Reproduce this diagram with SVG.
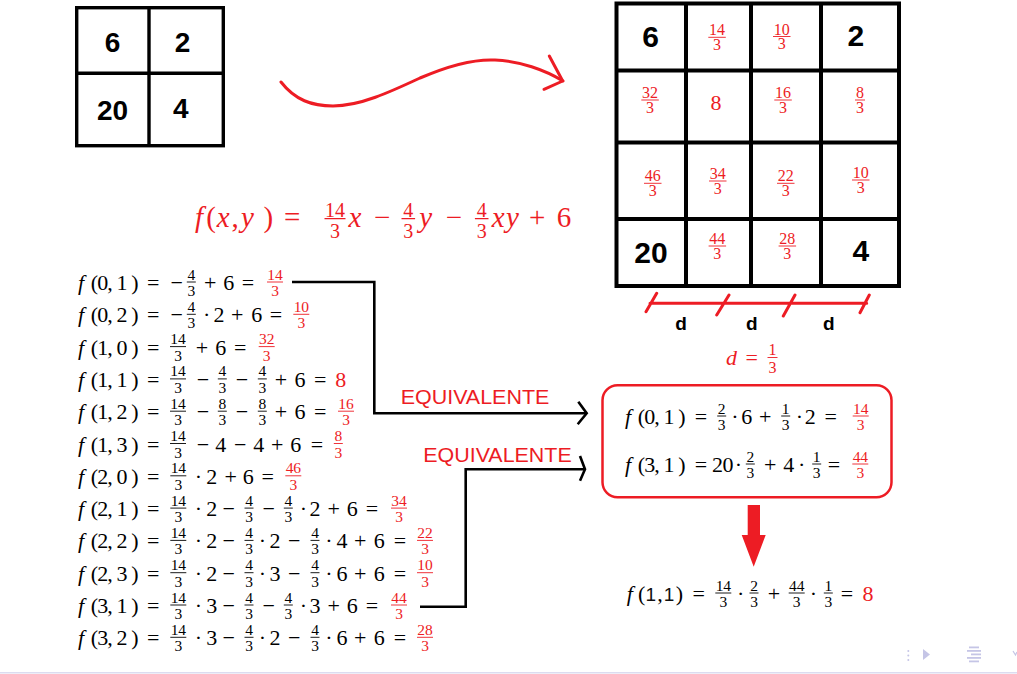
<svg xmlns="http://www.w3.org/2000/svg" width="1017" height="674" viewBox="0 0 1017 674">
<style>
.m{font-family:"Liberation Serif","DejaVu Serif",serif;font-size:22px;text-anchor:middle;fill:#000}
.fi{font-family:"Liberation Serif","DejaVu Serif",serif;font-size:22px;font-style:italic;fill:#000}
.n{font-family:"Liberation Serif","DejaVu Serif",serif;font-size:15.5px;text-anchor:middle;fill:#000}
.g{font-family:"Liberation Serif","DejaVu Serif",serif;font-size:16px;text-anchor:middle;fill:#ed1c24}
.F{font-family:"Liberation Serif","DejaVu Serif",serif;font-size:29px;text-anchor:middle;fill:#ed1c24}
.Fi{font-family:"Liberation Serif","DejaVu Serif",serif;font-size:29px;font-style:italic;text-anchor:middle;fill:#ed1c24}
.Fn{font-family:"Liberation Serif","DejaVu Serif",serif;font-size:20px;text-anchor:middle;fill:#ed1c24}
.r{fill:#ed1c24}
.bar{stroke:#000;stroke-width:0.9;fill:none}
.rbar{stroke:#ed1c24;stroke-width:0.9;fill:none}
.b28{font-family:"Liberation Sans",Arial,sans-serif;font-weight:bold;font-size:28px;text-anchor:middle;fill:#000}
.b30{font-family:"Liberation Sans",Arial,sans-serif;font-weight:bold;font-size:30px;text-anchor:middle;fill:#000}
.bd{font-family:"Liberation Sans",Arial,sans-serif;font-weight:bold;font-size:19px;text-anchor:middle;fill:#000}
.eq{font-family:"Liberation Sans",Arial,sans-serif;font-size:21px;fill:#ed1c24}
.grid{stroke:#000;fill:none}
.conn{stroke:#000;stroke-width:2.6;fill:none}
.nav{fill:#c5c5e6}
</style>

<g id="grid2x2">
<rect class="grid" x="76.7" y="7.7" width="146.6" height="138" stroke-width="3.4"/>
<path class="grid" stroke-width="3.4" d="M149,7.7V145.7M76.7,73.3H223.3"/>
<text class="b28" x="112.5" y="52">6</text>
<text class="b28" x="182.5" y="51.7">2</text>
<text class="b28" x="112.5" y="120">20</text>
<text class="b28" x="180.8" y="118">4</text>
</g>

<g id="curve-arrow">
<path d="M281,82 C295,100 312,106 333,106 C360,106 390,92 420,78 C450,65 475,59 495,60 C520,61 545,70 563,81" stroke="#ed1c24" stroke-width="3" fill="none" stroke-linecap="round"/>
<path d="M549.3,56 L562.7,81 L544,89.3" stroke="#ed1c24" stroke-width="3" fill="none" stroke-linecap="round" stroke-linejoin="round"/>
</g>

<g id="grid4x4">
<rect class="grid" x="616.5" y="3.5" width="282.5" height="282.5" stroke-width="4"/>
<path class="grid" stroke-width="4" d="M686,3.5V286M751,3.5V286M821,3.5V286M616.5,70.5H899M616.5,142.5H899M616.5,219H899"/>
<text class="b30" x="650.5" y="47">6</text>
<text class="b30" x="855.8" y="45.7">2</text>
<text class="b30" x="651" y="263">20</text>
<text class="b30" x="860.8" y="260.7">4</text>
<text class="g" x="713 721 777.7 785.7" y="34.8">1410</text>
<text class="g" x="717" y="50">3</text>
<text class="g" x="781.7" y="49.2">3</text>
<text class="g" x="646 654 779 787 860" y="97.5">32168</text>
<text class="g" x="650 783 860" y="112.7">333</text>
<text class="m r" x="716" y="110">8</text>
<text class="g" x="648.7 656.7 781.7 789.7" y="180.8">4622</text>
<text class="g" x="652.7 785.7" y="196">33</text>
<text class="g" x="713.7 721.7" y="178.5">34</text>
<text class="g" x="717.7" y="193.7">3</text>
<text class="g" x="856.7 864.7" y="177.5">10</text>
<text class="g" x="860.7" y="192.7">3</text>
<text class="g" x="713.3 721.3 783.3 791.3" y="243.5">4428</text>
<text class="g" x="717.3 787.3" y="258.7">33</text>
<path class="rbar" d="M708.3,37.3h17.5M773,36.5h17.5M641.3,100h17.5M774.3,100h17.5M855,100h10M644,183.3h17.5M709,181h17.5M777,183.3h17.5M852,180h17.5M708.6,246h17.5M778.6,246h17.5"/>
</g>

<g id="dimension">
<path d="M650,303.3H866.7M656.7,293.3L646,311.7M729,295L716.7,315M795,295L783.3,316M869.3,295L860,312.7" stroke="#ed1c24" stroke-width="3" fill="none" stroke-linecap="round"/>
<text class="bd" x="681 751.7 828.7" y="330">ddd</text>
<text class="fi r" x="726" y="365">d</text>
<text class="m r" x="751.7" y="365">=</text>
<text class="g" x="772.5" y="355">1</text>
<text class="g" x="772.5" y="372.5">3</text>
<path class="rbar" d="M767.5,357.5h10"/>
</g>

<g id="formula">
<text class="Fi" x="199 223.3 247.5 355 425.8 498.3 512.5" y="227">fxyxyxy</text>
<text class="F" x="211 235 268.3 292.3 382.3 454 537.3 564" y="227">(,)=−−+6</text>
<text class="Fn" x="330 340 408.3 481.7" y="216.5">1444</text>
<text class="Fn" x="335 408.3 481.7" y="237.5">333</text>
<path d="M324.5,218.7h21M401.5,218.7h13.6M474.9,218.7h13.6" stroke="#ed1c24" stroke-width="1.2"/>
</g>

<g id="equations">
<g id="eq01">
<text class="fi" x="78" y="290">f</text>
<text class="m" x="94.5 102.8 110 122 135 153.3 176.7 210.3 228.7 248" y="290">(0,1)=−+6=</text>
<text class="n" x="191.3" y="279.5">4</text><text class="n" x="191.3" y="296">3</text>
<path class="bar" d="M186.8,282h9"/>
<text class="n r" x="271.2 278.8" y="279.5">14</text><text class="n r" x="275" y="296">3</text>
<path class="rbar" d="M267,282h16"/>
</g>
<g id="eq02">
<text class="fi" x="78" y="322.3">f</text>
<text class="m" x="94.5 102.8 110 122 135 153.3 176.7 206.7 219 237.3 256.7 276" y="322.3">(0,2)=−·2+6=</text>
<text class="n" x="191.3" y="311.8">4</text><text class="n" x="191.3" y="328.3">3</text>
<path class="bar" d="M186.8,314.3h9"/>
<text class="n r" x="297.5 305.1" y="311.8">10</text><text class="n r" x="301.3" y="328.3">3</text>
<path class="rbar" d="M293.3,314.3h16"/>
</g>
<g id="eq10">
<text class="fi" x="78" y="354.6">f</text>
<text class="m" x="94.5 102.8 110 122 135 153.3 202 220.7 240.3" y="354.6">(1,0)=+6=</text>
<text class="n" x="174.2 181.8" y="344.1">14</text><text class="n" x="178" y="360.6">3</text>
<path class="bar" d="M170,346.6h16"/>
<text class="n r" x="262.9 270.5" y="344.1">32</text><text class="n r" x="266.7" y="360.6">3</text>
<path class="rbar" d="M258.7,346.6h16"/>
</g>
<g id="eq11">
<text class="fi" x="78" y="386.9">f</text>
<text class="m" x="94.5 102.8 110 122 135 153.3 203 242 281 300 320.3" y="386.9">(1,1)=−−+6=</text>
<text class="m r" x="340.7" y="386.9">8</text>
<text class="n" x="174.2 181.8 222.3 262.3" y="376.4">1444</text><text class="n" x="178 222.3 262.3" y="392.9">333</text>
<path class="bar" d="M170,378.9h16M217.8,378.9h9M257.8,378.9h9"/>
</g>
<g id="eq12">
<text class="fi" x="78" y="419.2">f</text>
<text class="m" x="94.5 102.8 110 122 135 153.3 203 242 281 300 320.3" y="419.2">(1,2)=−−+6=</text>
<text class="n" x="174.2 181.8 222.3 262.3" y="408.7">1488</text><text class="n" x="178 222.3 262.3" y="425.2">333</text>
<path class="bar" d="M170,411.2h16M217.8,411.2h9M257.8,411.2h9"/>
<text class="n r" x="342.2 349.8" y="408.7">16</text><text class="n r" x="346" y="425.2">3</text>
<path class="rbar" d="M338,411.2h16"/>
</g>
<g id="eq13">
<text class="fi" x="78" y="451.5">f</text>
<text class="m" x="94.5 102.8 110 122 135 153.3 203 220.7 240.3 258.7 277.3 295.7 317" y="451.5">(1,3)=−4−4+6=</text>
<text class="n" x="174.2 181.8" y="441">14</text><text class="n" x="178" y="457.5">3</text>
<path class="bar" d="M170,443.5h16"/>
<text class="n r" x="338.3" y="441">8</text><text class="n r" x="338.3" y="457.5">3</text>
<path class="rbar" d="M333.8,443.5h9"/>
</g>
<g id="eq20">
<text class="fi" x="78" y="483.8">f</text>
<text class="m" x="94.5 102.8 110 122 135 153.3 198.3 211.7 230.7 248.3 267.7" y="483.8">(2,0)=·2+6=</text>
<text class="n" x="174.5 182.1" y="473.3">14</text><text class="n" x="178.3" y="489.8">3</text>
<path class="bar" d="M170.3,475.8h16"/>
<text class="n r" x="289.5 297.1" y="473.3">46</text><text class="n r" x="293.3" y="489.8">3</text>
<path class="rbar" d="M285.3,475.8h16"/>
</g>
<g id="eq21">
<text class="fi" x="78" y="516.1">f</text>
<text class="m" x="94.5 102.8 110 122 135 153.3 198.3 211.7 228.7 268.7 303.3 315 333.7 352.3 372" y="516.1">(2,1)=·2−−·2+6=</text>
<text class="n" x="174.5 182.1 249 288.3" y="505.6">1444</text><text class="n" x="178.3 249 288.3" y="522.1">333</text>
<path class="bar" d="M170.3,508.1h16M244.5,508.1h9M283.8,508.1h9"/>
<text class="n r" x="395.2 402.8" y="505.6">34</text><text class="n r" x="399" y="522.1">3</text>
<path class="rbar" d="M391,508.1h16"/>
</g>
<g id="eq22">
<text class="fi" x="78" y="548.4">f</text>
<text class="m" x="94.5 102.8 110 122 135 153.3 198.3 211.7 228.7 262.3 275 294.3 329 342 360.3 379.3 400" y="548.4">(2,2)=·2−·2−·4+6=</text>
<text class="n" x="174.5 182.1 249 315" y="537.9">1444</text><text class="n" x="178.3 249 315" y="554.4">333</text>
<path class="bar" d="M170.3,540.4h16M244.5,540.4h9M310.5,540.4h9"/>
<text class="n r" x="421.2 428.8" y="537.9">22</text><text class="n r" x="425" y="554.4">3</text>
<path class="rbar" d="M417,540.4h16"/>
</g>
<g id="eq23">
<text class="fi" x="78" y="580.7">f</text>
<text class="m" x="94.5 102.8 110 122 135 153.3 198.3 211.7 228.7 262.3 275 294.3 329 342 360.3 379.3 400" y="580.7">(2,3)=·2−·3−·6+6=</text>
<text class="n" x="174.5 182.1 249 315" y="570.2">1444</text><text class="n" x="178.3 249 315" y="586.7">333</text>
<path class="bar" d="M170.3,572.7h16M244.5,572.7h9M310.5,572.7h9"/>
<text class="n r" x="421.2 428.8" y="570.2">10</text><text class="n r" x="425" y="586.7">3</text>
<path class="rbar" d="M417,572.7h16"/>
</g>
<g id="eq31">
<text class="fi" x="78" y="613">f</text>
<text class="m" x="94.5 102.8 110 122 135 153.3 198.3 211.7 228.7 268.7 303.3 315 333.7 352.3 372" y="613">(3,1)=·3−−·3+6=</text>
<text class="n" x="174.5 182.1 249 288.3" y="602.5">1444</text><text class="n" x="178.3 249 288.3" y="619">333</text>
<path class="bar" d="M170.3,605h16M244.5,605h9M283.8,605h9"/>
<text class="n r" x="395.2 402.8" y="602.5">44</text><text class="n r" x="399" y="619">3</text>
<path class="rbar" d="M391,605h16"/>
</g>
<g id="eq32">
<text class="fi" x="78" y="645.3">f</text>
<text class="m" x="94.5 102.8 110 122 135 153.3 198.3 211.7 228.7 262.3 275 294.3 329 342 360.3 379.3 400" y="645.3">(3,2)=·3−·2−·6+6=</text>
<text class="n" x="174.5 182.1 249 315" y="634.8">1444</text><text class="n" x="178.3 249 315" y="651.3">333</text>
<path class="bar" d="M170.3,637.3h16M244.5,637.3h9M310.5,637.3h9"/>
<text class="n r" x="421.2 428.8" y="634.8">28</text><text class="n r" x="425" y="651.3">3</text>
<path class="rbar" d="M417,637.3h16"/>
</g>
</g>

<g id="connectors">
<path class="conn" d="M292,282H374.3V413.3H586"/>
<polyline class="conn" points="578.3,401.7 586.7,413.3 577.7,424.3"/>
<path class="conn" d="M420,606.7H465.7V469.3H584"/>
<polyline class="conn" points="580,456 585,469.3 580,480.7"/>
<text class="eq" x="400.7" y="404" textLength="148.6" lengthAdjust="spacingAndGlyphs">EQUIVALENTE</text>
<text class="eq" x="423.3" y="462" textLength="148.4" lengthAdjust="spacingAndGlyphs">EQUIVALENTE</text>
</g>

<g id="equiv-box">
<rect x="602.5" y="385.3" width="289" height="112" rx="15" ry="15" fill="none" stroke="#ed1c24" stroke-width="2.5"/>
<text class="fi" x="625" y="424">f</text>
<text class="m" x="641.5 649.8 657 669 682 701 735 746.7 765.3 799.3 810.3 830.7" y="424">(0,1)=·6+·2=</text>
<text class="n" x="721.7 785.7" y="413.5">21</text><text class="n" x="721.7 785.7" y="430">33</text>
<path class="bar" d="M717.2,416h9M781.2,416h9"/>
<text class="n r" x="856.9 864.5" y="413.5">14</text><text class="n r" x="860.7" y="430">3</text>
<path class="rbar" d="M852.7,416h16"/>
<text class="fi" x="625" y="472">f</text>
<text class="m" x="641.5 649.8 657 669 682 701 717.5 728 738.3 770.3 788.7 801.7 834" y="472">(3,1)=20·+4·=</text>
<text class="n" x="750.3 816.7" y="461.5">21</text><text class="n" x="750.3 816.7" y="478">33</text>
<path class="bar" d="M745.8,464h9M812.2,464h9"/>
<text class="n r" x="856.5 864.1" y="461.5">44</text><text class="n r" x="860.3" y="478">3</text>
<path class="rbar" d="M852.3,464h16"/>
</g>

<g id="down-arrow">
<path d="M747.7,505H760V535H765.7L753.7,566.7L741.7,535H747.7Z" fill="#ed1c24"/>
</g>

<g id="result">
<text class="fi" x="626.7" y="601">f</text>
<text class="m" x="641.7 660 679.3 698.8 740.7 774 813.3 847" y="601">(,)=·+·=</text>
<text x="650.8 669" y="601" font-family="Liberation Sans,Arial,sans-serif" font-size="19" text-anchor="middle" fill="#111">11</text>
<text class="m r" x="868" y="601">8</text>
<text class="n" x="719.5 727.1 754 792.9 800.5 828.3" y="590.5">142441</text>
<text class="n" x="723.3 754 796.7 828.3" y="607">3333</text>
<path class="bar" d="M715.3,593h16M749.5,593h9M788.7,593h16M823.8,593h9"/>
</g>

<g id="nav">
<circle class="nav" cx="908.3" cy="651" r="1"/>
<circle class="nav" cx="908.3" cy="655.5" r="1"/>
<circle class="nav" cx="908.3" cy="660" r="1"/>
<polygon class="nav" points="923,649 923,660 930,654.5"/>
<rect class="nav" x="969" y="646.5" width="10" height="1.8"/>
<rect class="nav" x="967" y="650" width="14" height="1.8"/>
<rect class="nav" x="971" y="653.5" width="10" height="1.8"/>
<rect class="nav" x="967" y="657" width="14" height="1.8"/>
<rect class="nav" x="969" y="660.5" width="10" height="1.8"/>
<polyline points="1013,651 1015.5,655 1017,652" fill="none" stroke="#c5c5e6" stroke-width="1.2"/>
<line x1="0" y1="672.8" x2="1017" y2="672.8" stroke="#dcdcf0" stroke-width="1.6"/>
</g>
</svg>
